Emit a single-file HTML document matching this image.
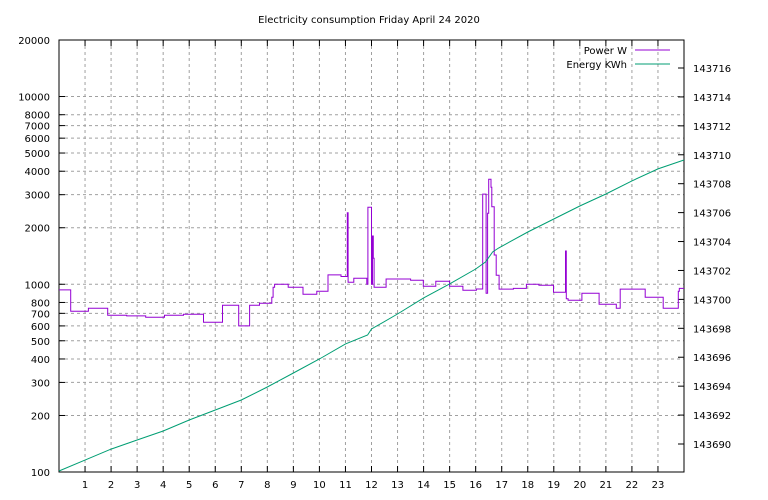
<!DOCTYPE html>
<html><head><meta charset="utf-8"><style>
body{margin:0;background:#fff}
svg{display:block;font-family:"DejaVu Sans","Liberation Sans",sans-serif;font-size:10px}
</style></head><body>
<svg id="c" width="768" height="500">
<text x="369" y="23" text-anchor="middle">Electricity consumption Friday April 24 2020</text>
</svg>
<script>
const hourTicks=[1,2,3,4,5,6,7,8,9,10,11,12,13,14,15,16,17,18,19,20,21,22,23];
const leftTicks=[100,200,300,400,500,600,700,800,1000,2000,3000,4000,5000,6000,7000,8000,10000,20000];
const rightTicks=[143690,143692,143694,143696,143698,143700,143702,143704,143706,143708,143710,143712,143714,143716];
const powerHours=[0,0.45,1.13,1.87,2.6,3.33,4.05,4.78,5.55,6.28,6.9,7.32,7.7,8.17,8.22,8.28,8.8,9.37,9.9,10.33,10.83,11.07,11.1,11.32,11.82,11.86,12.0,12.04,12.07,12.1,12.56,13.5,13.99,14.47,15.0,15.51,16.03,16.27,16.4,16.46,16.5,16.59,16.62,16.71,16.79,16.9,17.45,17.95,18.43,18.99,19.45,19.48,19.55,20.08,20.74,21.4,21.55,22.51,23.2,23.78,23.82];
const powerWatts=[933,718,745,684,678,667,684,692,627,773,600,773,792,853,964,1000,964,885,918,1122,1100,2405,1025,1076,1000,2572,1000,1808,1375,964,1067,1050,976,1037,976,929,943,3020,896,2390,3625,3290,2590,1432,1117,942,951,1000,988,906,1504,838,822,896,782,745,942,853,745,918,951];
const energyHours=[0,1,2,3,4,5,6,7,8,9,10,11,11.85,12,13,14,15,16,16.38,16.65,16.88,18,19,20,21,22,23,24];
const energyKWh=[143688.13,143688.89,143689.65,143690.28,143690.90,143691.66,143692.35,143693.04,143693.94,143694.91,143695.88,143696.92,143697.54,143697.95,143698.99,143700.10,143701.07,143702.10,143702.59,143703.28,143703.55,143704.66,143705.56,143706.46,143707.29,143708.19,143709.02,143709.64];

const L=59,R=684,T=40,B=472;
const xS=h=>L+(R-L)*h/24;
const yL=w=>B-(B-T)*(Math.log10(w)-2)/Math.log10(200);
const yR=k=>444-(k-143690)*14.4615;
const svg=document.getElementById('c');
const NS='http://www.w3.org/2000/svg';
function mk(tag,attrs,name){const e=document.createElementNS(NS,tag);for(const k in attrs)e.setAttribute(k,attrs[k]);


svg.appendChild(e);return e;}
hourTicks.forEach(h=>{const x=xS(h);
mk('line',{x1:x,x2:x,y1:T,y2:B,stroke:'#a0a0a0','stroke-dasharray':'3,3','stroke-width':1},'x-grid-line');
mk('line',{x1:x,x2:x,y1:B,y2:B-6,stroke:'#000'},'x-tick');
mk('line',{x1:x,x2:x,y1:T,y2:T+6,stroke:'#000'},'x-tick-top');
const t=mk('text',{x:x,y:B+16,'text-anchor':'middle'},'x-tick-label');t.textContent=h;});
leftTicks.forEach(w=>{const y=yL(w);
if(w!==100&&w!==20000)mk('line',{x1:L,x2:R,y1:y,y2:y,stroke:'#a0a0a0','stroke-dasharray':'3,3','stroke-width':1},'y-grid-line');
mk('line',{x1:L,x2:L+6,y1:y,y2:y,stroke:'#000'},'y-tick');
const t=mk('text',{x:L-9,y:y+4,'text-anchor':'end'},'y-tick-label');t.textContent=w;});
rightTicks.forEach(k=>{const y=yR(k);
mk('line',{x1:R,x2:R-6,y1:y,y2:y,stroke:'#000'},'y2-tick');
const t=mk('text',{x:R+9,y:y+4,'text-anchor':'start'},'y2-tick-label');t.textContent=k;});
mk('rect',{x:L,y:T,width:R-L,height:B-T,fill:'none',stroke:'#000','stroke-width':1},'plot-frame');
let d='';
powerHours.forEach((h,i)=>{const x=xS(h).toFixed(1),y=yL(powerWatts[i]).toFixed(1);
d+=(i===0?'M'+x+','+y:'H'+x+'V'+y);});
d+='H'+xS(24).toFixed(1);
mk('path',{d:d,fill:'none',stroke:'#9400d3','stroke-width':1},'power-line');
let e='';
energyHours.forEach((h,i)=>{e+=(i?'L':'M')+xS(h).toFixed(1)+','+yR(energyKWh[i]).toFixed(1);});
mk('path',{d:e,fill:'none',stroke:'#009e73','stroke-width':1},'energy-line');
let t=mk('text',{x:627,y:54,'text-anchor':'end'},'legend-power-label');t.textContent='Power W';
mk('line',{x1:635,x2:670,y1:50,y2:50,stroke:'#9400d3'},'legend-power-swatch');
t=mk('text',{x:627,y:68,'text-anchor':'end'},'legend-energy-label');t.textContent='Energy KWh';
mk('line',{x1:635,x2:670,y1:64,y2:64,stroke:'#009e73'},'legend-energy-swatch');
</script>
</body></html>
